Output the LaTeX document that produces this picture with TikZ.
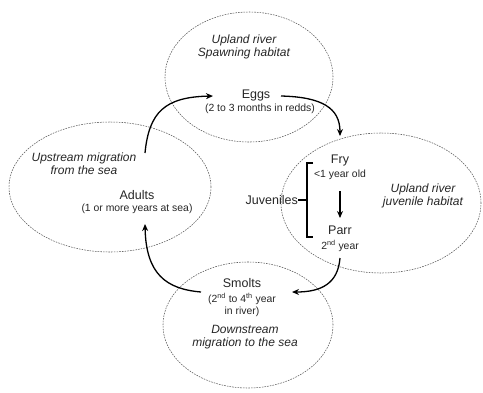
\documentclass[tikz,border=0pt]{standalone}
\usepackage{fontspec}
\setmainfont{Liberation Sans}
\usetikzlibrary{arrows.meta}
\begin{document}
\begin{tikzpicture}[x=1pt,y=-1pt,
  habitat/.style={draw=black!65, line width=0.55pt, dash pattern=on 1.6pt off 1.1pt},
  mainlbl/.style={inner sep=0pt, text=black!85, font=\fontsize{12.5}{14}\selectfont},
  sublbl/.style={inner sep=0pt, text=black!85, font=\fontsize{10.4}{12}\selectfont, align=center},
  itlbl/.style={inner sep=0pt, text=black!85, font=\fontsize{12}{14}\selectfont\itshape, align=center},
  flow/.style={line width=1.3pt, -{Stealth[length=7pt,width=6pt]}},
  brace/.style={line width=1.3pt}]
\useasboundingbox (0,0) rectangle (483,392);
% habitats
\draw[habitat] (249,77) ellipse [x radius=84pt, y radius=65pt];
\draw[habitat] (110,187) ellipse [x radius=101pt, y radius=65pt];
\draw[habitat] (381,203) ellipse [x radius=100pt, y radius=70pt];
\draw[habitat] (248,325) ellipse [x radius=85pt, y radius=63pt];
% top
\node[itlbl] (upl) at (244,47) {Upland river\\[-1pt]Spawning habitat};
\node[mainlbl] (eggs) at (256,95) {Eggs};
\node[sublbl] (eggsd) at (260,109) {(2 to 3 months in redds)};
% left
\node[itlbl] (ups) at (84,164) {Upstream migration\\[-1pt]from the sea};
\node[mainlbl] (adults) at (137,195) {Adults};
\node[sublbl] (adultsd) at (137,209) {(1 or more years at sea)};
% right
\node[mainlbl] (fry) at (340,160) {Fry};
\node[sublbl] (fryd) at (340,175) {<1 year old};
\node[mainlbl] (parr) at (340,230) {Parr};
\node[sublbl] (parrd) at (340,246) {2\textsuperscript{nd} year};
\node[mainlbl, anchor=east] (juv) at (298,200) {Juveniles};
\node[itlbl] (upr) at (423,196) {Upland river\\[-1pt]juvenile habitat};
% bottom
\node[mainlbl] (smolts) at (242,283) {Smolts};
\node[sublbl] (smoltsd) at (242,305) {(2\textsuperscript{nd} to 4\textsuperscript{th} year\\in river)};
\node[itlbl] (down) at (245,337) {Downstream\\[-1pt]migration to the sea};
% bracket
\coordinate (bt) at (307,163);
\coordinate (bb) at (307,237);
\coordinate (bm) at (307,200);
\draw[brace] ([xshift=6pt]bt) -- (bt) -- (bb) -- ([xshift=6pt]bb);
\draw[brace] (juv.east) -- (bm);
% arrow end points
\coordinate (a1s) at (145,153);
\coordinate (a1e) at (213,96);
\coordinate (a2s) at (281,96);
\coordinate (a2e) at (340,136);
\coordinate (a3s) at (340,258);
\coordinate (a3e) at (292,292);
\coordinate (a4s) at (201,292);
\coordinate (a4e) at (145,224);
\coordinate (a5s) at (340,191);
\coordinate (a5e) at (340,218);
\draw[flow] (a1s) .. controls (149,112) and (165,97) .. (a1e);
\draw[flow] (a2s) .. controls (322,97) and (340,108) .. (a2e);
\draw[flow] (a3s) .. controls (338,283) and (322,292) .. (a3e);
\draw[flow] (a4s) .. controls (166,289) and (146,274) .. (a4e);
\draw[flow] (a5s) -- (a5e);
\end{tikzpicture}
\end{document}
